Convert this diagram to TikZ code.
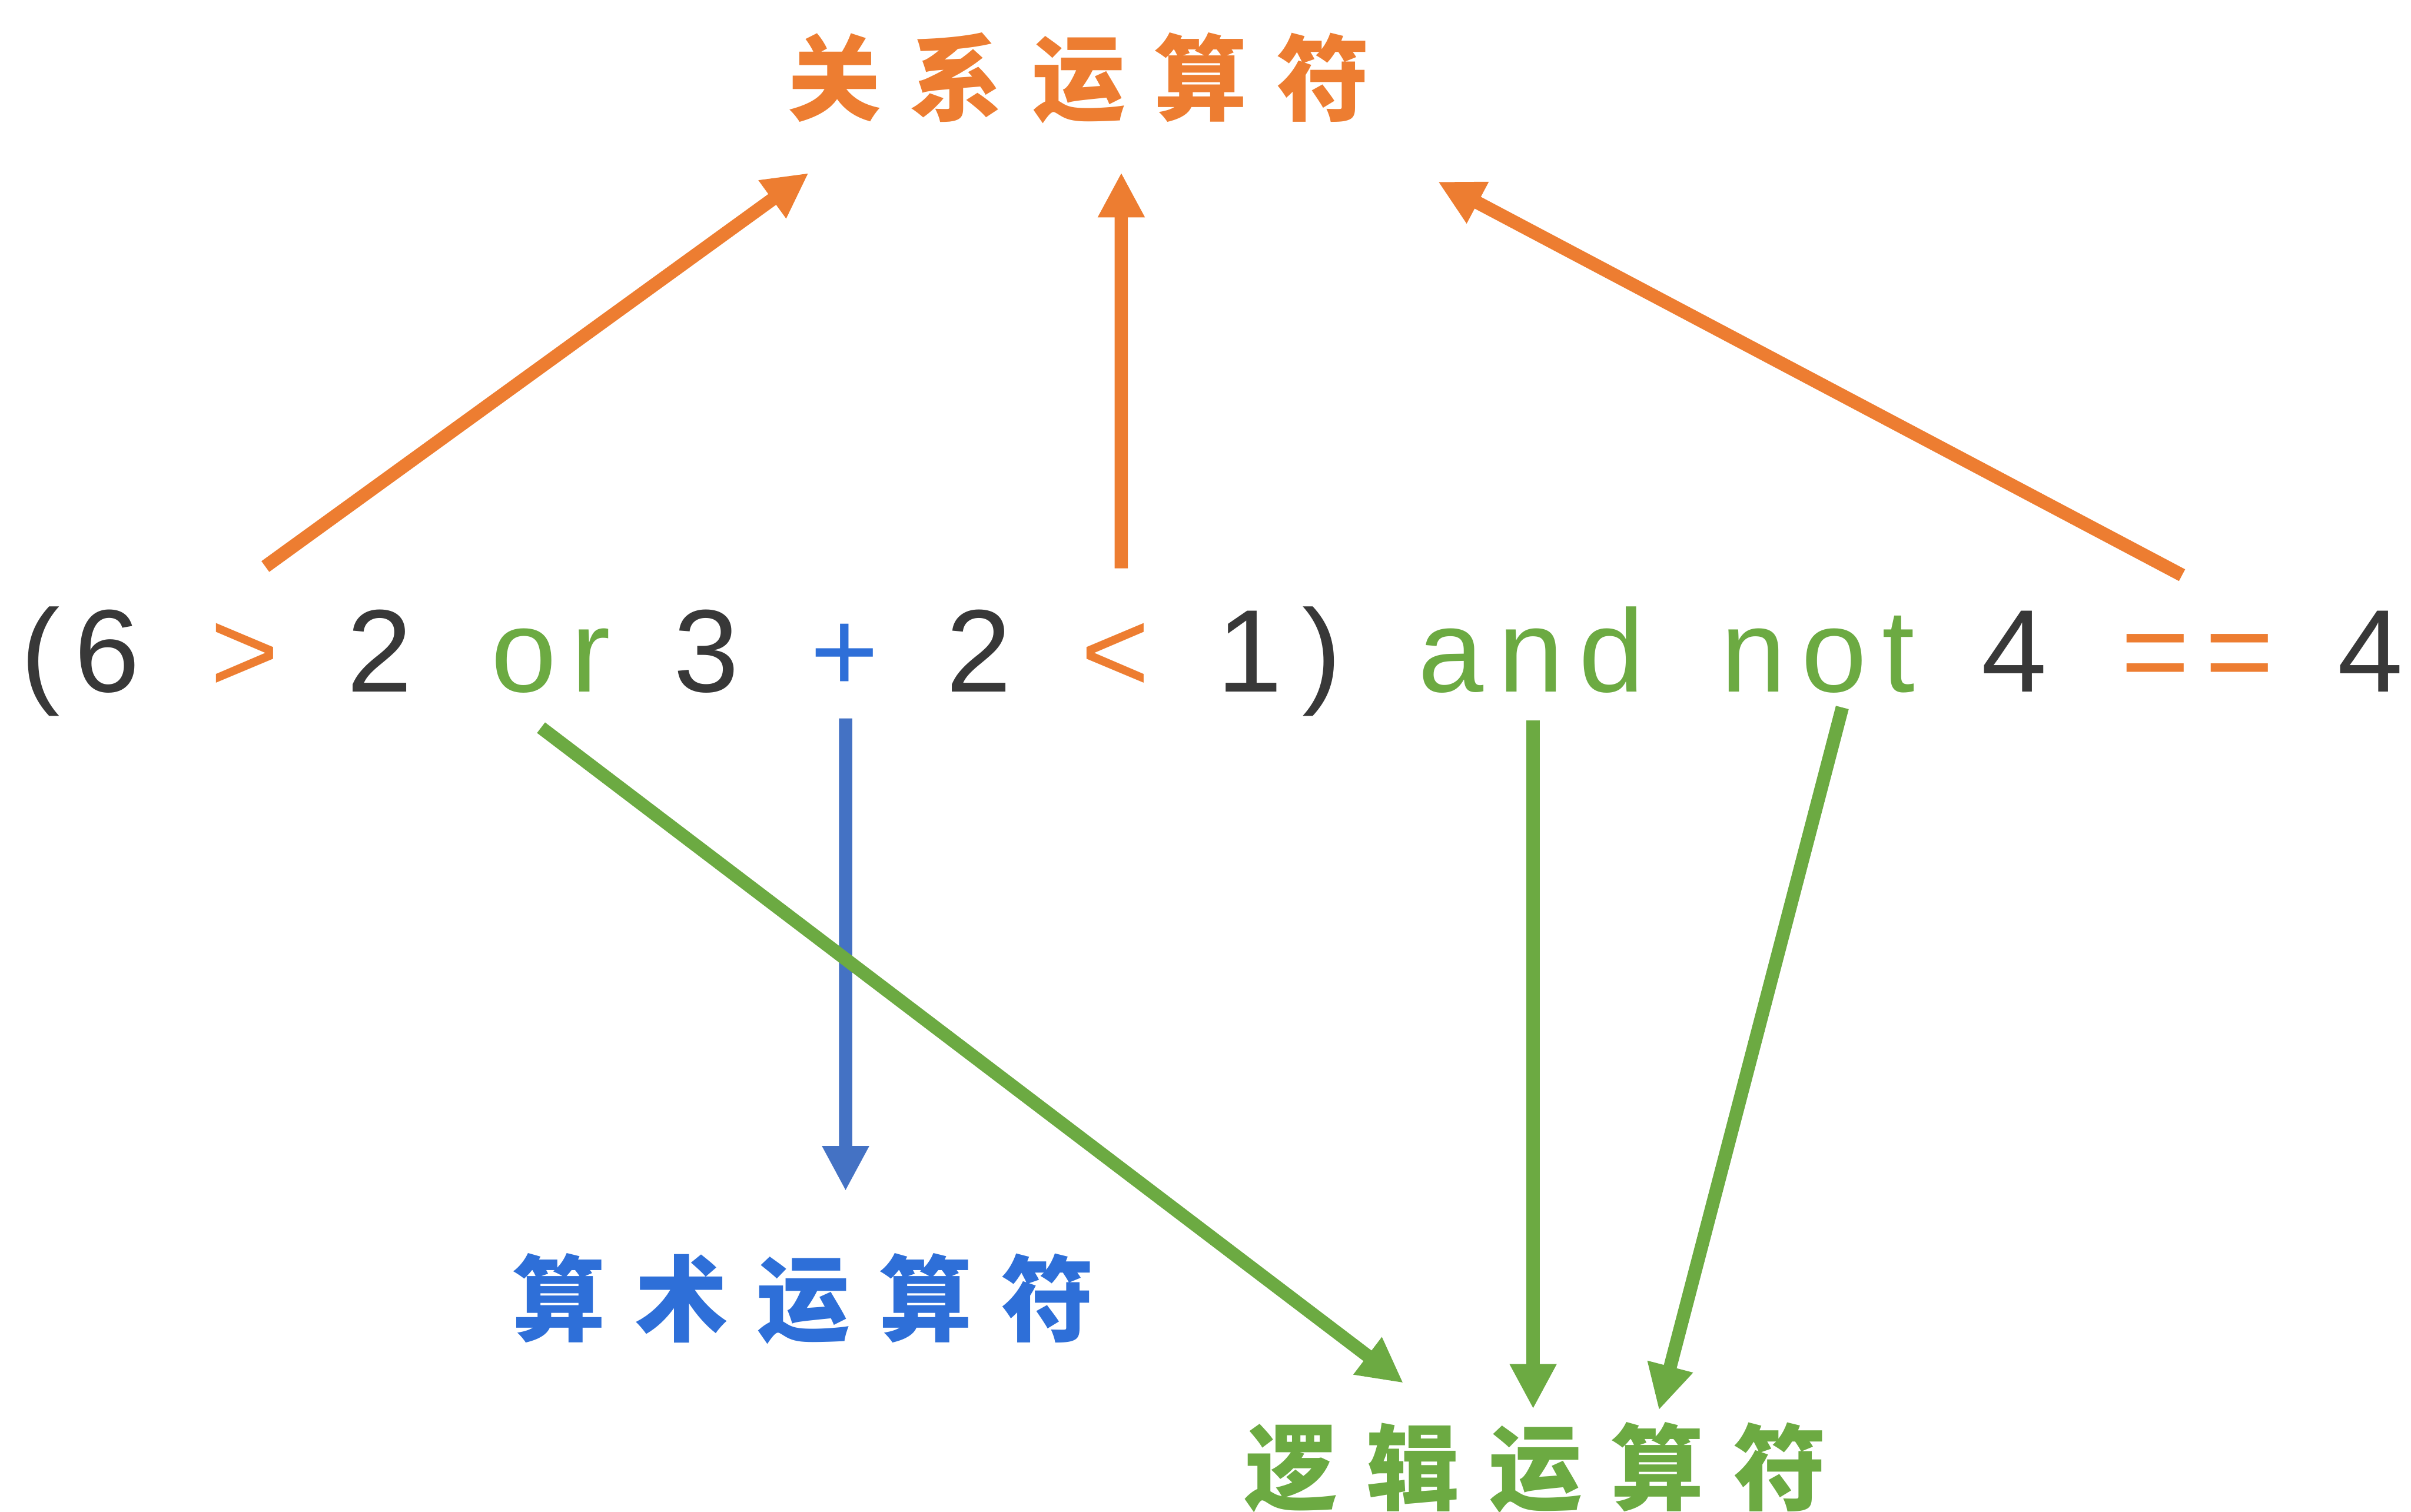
\documentclass[tikz,border=0pt]{standalone}
\usepackage{fontspec}
\setmainfont{Liberation Sans}
\newfontfamily\widefont{Liberation Sans}[LetterSpace=13]
\newfontfamily\cjkfont{Noto Sans CJK SC}[LetterSpace=31]
\usetikzlibrary{arrows.meta}

\definecolor{numgray}{HTML}{383838}
\definecolor{reloran}{HTML}{ED7D31}
\definecolor{loggreen}{HTML}{6CAA42}
\definecolor{aritblue}{HTML}{2E6FD8}
\definecolor{arrblue}{HTML}{4472C4}

\tikzset{
  tok/.style={inner sep=0pt, anchor=base, text height=1.45cm, text depth=0pt,
    text=numgray, font=\fontsize{58}{60}\selectfont},
  word/.style={tok, font=\fontsize{58}{60}\selectfont\widefont},
  lbl/.style={inner sep=0pt, font=\fontsize{46}{50}\selectfont\cjkfont\bfseries},
  arr/.style={line width=0.23cm, -{Triangle[length=0.78cm,width=0.76cm]}},
}

\begin{document}
\begin{tikzpicture}
\useasboundingbox (0,0) rectangle (41.8,-26.21);

% the expression
\node[tok] (lp) at (0.70,-12) {(};
\node[tok] (six) at (1.86,-12) {6};
\node[tok,text=reloran] (gt) at (4.24,-12) {>};
\node[tok] (twoa) at (6.58,-12) {2};
\node[word,text=loggreen] (or) at (9.55,-12) {or};
\node[tok] (three) at (12.25,-12) {3};
\node[tok,text=aritblue] (plus) at (14.64,-12) {+};
\node[tok] (twob) at (16.97,-12) {2};
\node[tok,text=reloran] (lt) at (19.34,-12) {<};
\node[tok] (one) at (21.67,-12) {1};
\node[tok] (rp) at (22.92,-12) {)};
\node[word,text=loggreen] (and) at (26.55,-12) {and};
\node[word,text=loggreen] (not) at (31.52,-12) {not};
\node[tok] (foura) at (34.92,-12) {4};
\node[word,text=reloran] (eq) at (38.10,-12) {==};
\node[tok] (fourb) at (41.10,-12) {4};

% the three kinds
\node[lbl,text=reloran] (rel) at (18.70,-1.35) {关系运算符};
\node[lbl,text=aritblue] (arit) at (13.93,-22.52) {算术运算符};
\node[lbl,text=loggreen] (logic) at (26.62,-25.45) {逻辑运算符};

% relational
\draw[arr,reloran] ([shift={(0.36,0.72)}]gt.north) -- ([shift={(-4.68,-1.65)}]rel.center);
\draw[arr,reloran] ([shift={(0.10,0.69)}]lt.north) -- ([shift={(0.74,-1.64)}]rel.center);
\draw[arr,reloran] ([shift={(-0.27,0.57)}]eq.north) -- ([shift={(6.23,-1.80)}]rel.center);

% arithmetic
\draw[arr,arrblue] ([shift={(0.02,-0.45)}]plus.south) -- ([shift={(0.73,1.87)}]arit.center);

% logical
\draw[arr,loggreen] ([shift={(-0.17,-0.61)}]or.south) -- ([shift={(-2.29,1.47)}]logic.center);
\draw[arr,loggreen] ([shift={(0.03,-0.48)}]and.south) -- ([shift={(-0.04,1.02)}]logic.center);
\draw[arr,loggreen] ([shift={(0.42,-0.26)}]not.south) -- ([shift={(2.14,1.00)}]logic.center);
\end{tikzpicture}
\end{document}
